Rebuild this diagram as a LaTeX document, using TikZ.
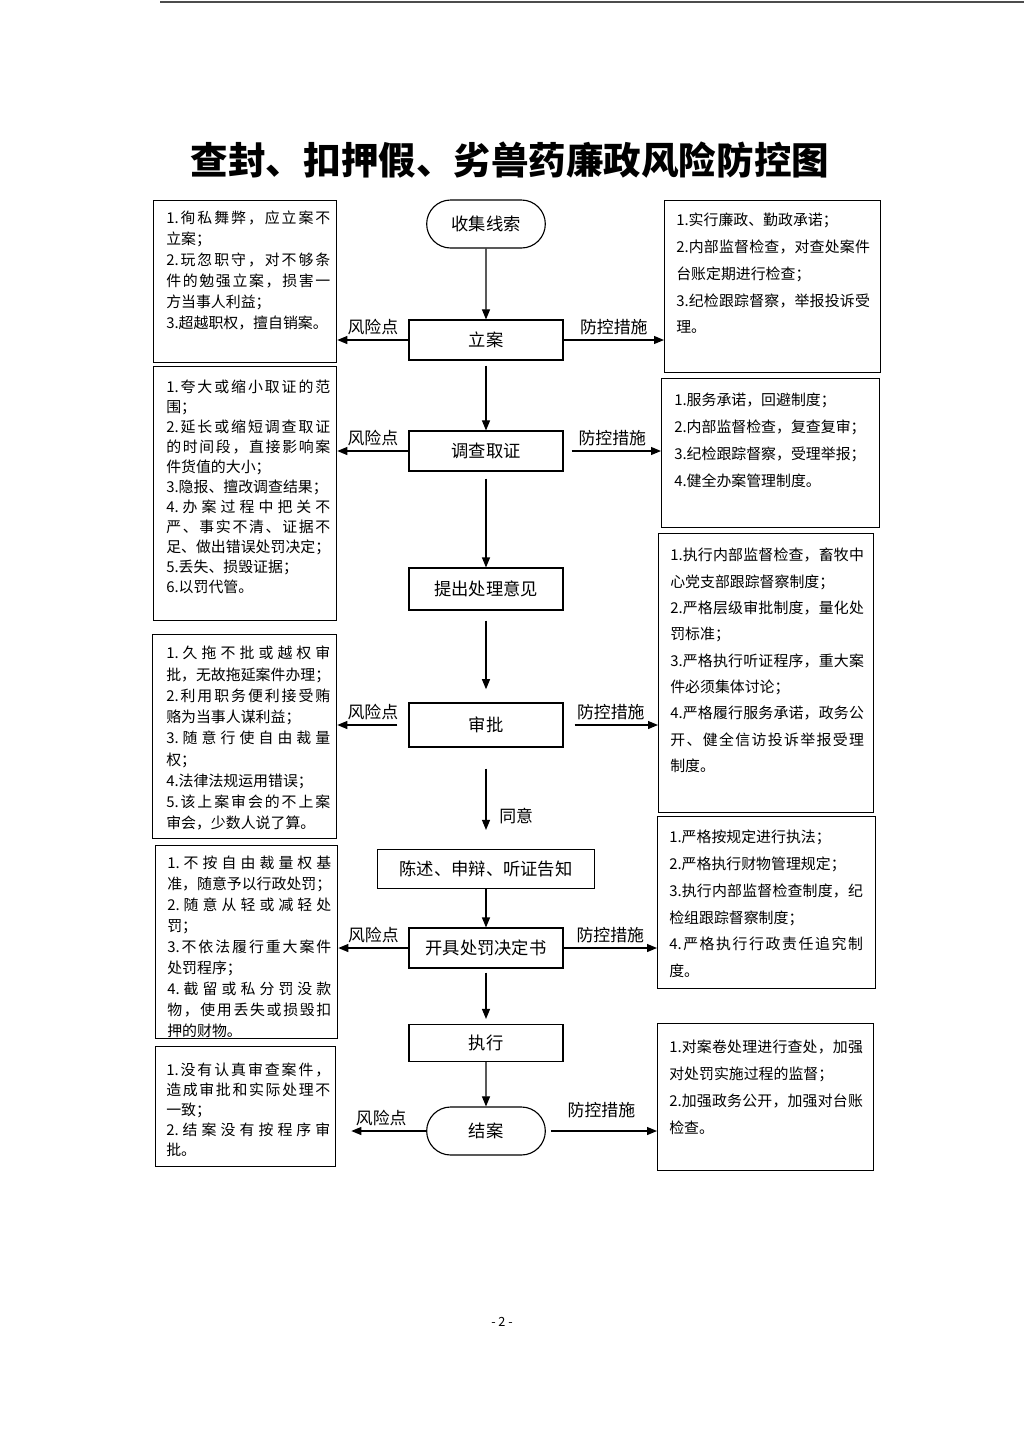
\documentclass[tikz,border=0pt]{standalone}
\usepackage{fontspec}
\setmainfont{Noto Sans CJK SC}
\usetikzlibrary{arrows.meta,shapes.misc}
\newlength\rowwidth
\def\spreadchars#1{\ifx#1\relax\else#1\expandafter\spreadnext\fi}
\def\spreadnext#1{\ifx#1\relax\else\hfil#1\expandafter\spreadnext\fi}
\newcommand\fillrow[1]{\hbox to \rowwidth{\spreadchars#1\relax}}
\begin{document}
\begin{tikzpicture}[x=0.025cm,y=-0.025cm,
    flowbox/.style={draw,line width=0.8pt,minimum width=3.85cm,minimum height=1cm,
      font=\fontsize{12.3pt}{14pt}\selectfont},
    endbox/.style={draw,rounded rectangle,line width=0.8pt,minimum width=3.2cm,
      minimum height=1.2cm,font=\fontsize{12.3pt}{14pt}\selectfont},
    listbox/.style={draw,line width=0.9pt,anchor=north west,inner sep=0pt},
    risktext/.style={anchor=north west,inner sep=0pt,align=left,
      font=\fontsize{10.6pt}{14.9pt}\selectfont,
      execute at begin node={\setlength{\rowwidth}{4.1cm}}},
    guardtext/.style={anchor=north west,inner sep=0pt,align=left,
      font=\fontsize{10.6pt}{19pt}\selectfont,
      execute at begin node={\setlength{\rowwidth}{4.84cm}}},
    armlabel/.style={font=\fontsize{12pt}{14pt}\selectfont},
    arr/.style={-{Triangle[length=2.5mm,width=2mm]},line width=0.8pt}]
  \fill[white] (0,0) rectangle (1024,1448);
  \useasboundingbox (0,0) rectangle (1024,1448);
  \draw[line width=1pt,black!70] (160,2) -- (1024,2);
  \node[font=\fontsize{26.7pt}{30pt}\selectfont\bfseries] (title) at (510,160)
    {查封、扣押假、劣兽药廉政风险防控图};
  \draw
    (486,224) node[endbox] (clue){收集线索}
    (486,340) node[flowbox] (filing){立案}
    (486,451) node[flowbox] (investigate){调查取证}
    (486,589) node[flowbox,minimum height=1.05cm] (opinion){提出处理意见}
    (486,725) node[flowbox,minimum height=1.1cm] (approve){审批}
    (486,869) node[flowbox,minimum width=5.425cm,minimum height=0.975cm] (notify){陈述、申辩、听证告知}
    (486,948) node[flowbox] (decision){开具处罚决定书}
    (486,1043) node[flowbox,minimum height=0.925cm] (execute){执行}
    (486,1131) node[endbox] (close){结案};
  \node[listbox,minimum width=4.575cm,minimum height=4.05cm] (risk1) at (153,200) {};
  \node[listbox,minimum width=4.575cm,minimum height=6.35cm] (risk2) at (153,366) {};
  \node[listbox,minimum width=4.6cm,minimum height=5.1cm] (risk3) at (152,634) {};
  \node[listbox,minimum width=4.55cm,minimum height=4.825cm] (risk4) at (155,845) {};
  \node[listbox,minimum width=4.5cm,minimum height=3cm] (risk5) at (155,1046) {};
  \node[listbox,minimum width=5.4cm,minimum height=4.3cm] (guard1) at (664,200) {};
  \node[listbox,minimum width=5.45cm,minimum height=3.725cm] (guard2) at (661,378) {};
  \node[listbox,minimum width=5.375cm,minimum height=6.975cm] (guard3) at (658,533) {};
  \node[listbox,minimum width=5.45cm,minimum height=4.3cm] (guard4) at (657,816) {};
  \node[listbox,minimum width=5.4cm,minimum height=3.675cm] (guard5) at (657,1023) {};
  \node[risktext] (risk1text) at (166,211)
    {\fillrow{{1.}徇私舞弊，应立案不}\\立案；\\\fillrow{{2.}玩忽职守，对不够条}\\\fillrow{件的勉强立案，损害一}\\方当事人利益；\\3.超越职权，擅自销案。};
  \node[risktext,font=\fontsize{10.6pt}{14.2pt}\selectfont] (risk2text) at (166,380)
    {\fillrow{{1.}夸大或缩小取证的范}\\围；\\\fillrow{{2.}延长或缩短调查取证}\\\fillrow{的时间段，直接影响案}\\件货值的大小；\\3.隐报、擅改调查结果；\\\fillrow{{4.}办案过程中把关不}\\\fillrow{严、事实不清、证据不}\\足、做出错误处罚决定；\\5.丢失、损毁证据；\\6.以罚代管。};
  \node[risktext,font=\fontsize{10.6pt}{15.1pt}\selectfont] (risk3text) at (166,646)
    {\fillrow{{1.}久拖不批或越权审}\\批，无故拖延案件办理；\\\fillrow{{2.}利用职务便利接受贿}\\赂为当事人谋利益；\\\fillrow{{3.}随意行使自由裁量}\\权；\\4.法律法规运用错误；\\\fillrow{{5.}该上案审会的不上案}\\审会，少数人说了算。};
  \node[risktext] (risk4text) at (167,856)
    {\fillrow{{1.}不按自由裁量权基}\\准，随意予以行政处罚；\\\fillrow{{2.}随意从轻或减轻处}\\罚；\\\fillrow{{3.}不依法履行重大案件}\\处罚程序；\\\fillrow{{4.}截留或私分罚没款}\\\fillrow{物，使用丢失或损毁扣}\\押的财物。};
  \node[risktext,font=\fontsize{10.6pt}{14.2pt}\selectfont] (risk5text) at (166,1063)
    {\fillrow{{1.}没有认真审查案件，}\\\fillrow{造成审批和实际处理不}\\一致；\\\fillrow{{2.}结案没有按程序审}\\批。};
  \node[guardtext] (guard1text) at (676,213)
    {1.实行廉政、勤政承诺；\\\fillrow{{2.}内部监督检查，对查处案件}\\台账定期进行检查；\\\fillrow{{3.}纪检跟踪督察，举报投诉受}\\理。};
  \node[guardtext] (guard2text) at (674,393)
    {1.服务承诺，回避制度；\\2.内部监督检查，复查复审；\\3.纪检跟踪督察，受理举报；\\4.健全办案管理制度。};
  \node[guardtext,font=\fontsize{10.6pt}{18.7pt}\selectfont] (guard3text) at (670,548)
    {\fillrow{{1.}执行内部监督检查，畜牧中}\\心党支部跟踪督察制度；\\\fillrow{{2.}严格层级审批制度，量化处}\\罚标准；\\\fillrow{{3.}严格执行听证程序，重大案}\\件必须集体讨论；\\\fillrow{{4.}严格履行服务承诺，政务公}\\\fillrow{开、健全信访投诉举报受理}\\制度。};
  \node[guardtext] (guard4text) at (669,830)
    {1.严格按规定进行执法；\\2.严格执行财物管理规定；\\\fillrow{{3.}执行内部监督检查制度，纪}\\检组跟踪督察制度；\\\fillrow{{4.}严格执行行政责任追究制}\\度。};
  \node[guardtext] (guard5text) at (669,1040)
    {\fillrow{{1.}对案卷处理进行查处，加强}\\对处罚实施过程的监督；\\\fillrow{{2.}加强政务公开，加强对台账}\\检查。};
  \node[font=\fontsize{9pt}{11pt}\selectfont] (pagenum) at (502,1322) {- 2 -};
  \begin{scope}[arr]
    \draw (clue) to (filing);
    \draw[shorten <=0.125cm] (filing) to (investigate);
    \draw[shorten <=0.175cm] (investigate) to (opinion);
    \draw[shorten <=0.25cm,shorten >=0.33cm] (opinion) to (approve);
    \draw[shorten <=0.525cm,shorten >=0.475cm] (approve) to
      node[right,pos=0.68,xshift=0.2cm,armlabel]{同意} (notify);
    \draw (notify) to (decision);
    \draw[shorten <=0.1cm,shorten >=0.125cm] (decision) to (execute);
    \draw (execute) to (close);
    \draw (filing.west) -- node[above,armlabel]{风险点} (filing.west -| risk1.east);
    \draw (filing.east) -- node[above,armlabel]{防控措施} (filing.east -| guard1.west);
    \draw (investigate.west) -- node[above,armlabel]{风险点} (investigate.west -| risk2.east);
    \draw[shorten <=0.2cm] (investigate.east) -- node[above,armlabel]{防控措施} (investigate.east -| guard2.west);
    \draw[shorten <=0.275cm] (approve.west) -- node[above,armlabel]{风险点} (approve.west -| risk3.east);
    \draw[shorten <=0.275cm] (approve.east) -- node[above,armlabel]{防控措施} (approve.east -| guard3.west);
    \draw (decision.west) -- node[above,armlabel]{风险点} (decision.west -| risk4.east);
    \draw (decision.east) -- node[above,armlabel]{防控措施} (decision.east -| guard4.west);
    \draw[shorten >=0.375cm] (close.west) -- node[above,armlabel]{风险点} (close.west -| risk5.east);
    \draw[shorten <=0.125cm] (close.east) -- node[above,armlabel,yshift=0.2cm]{防控措施} (close.east -| guard5.west);
  \end{scope}
\end{tikzpicture}
\end{document}
